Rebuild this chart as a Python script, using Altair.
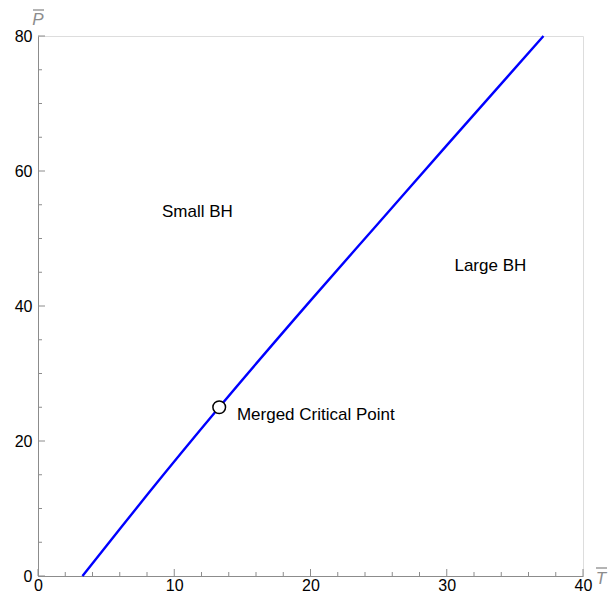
import altair as alt
import pandas as pd

# Coexistence / critical line (T̄, P̄)
line_T = [3.26, 5.0, 8.0, 13.3, 20.0, 25.0, 30.0, 37.1]
line_P = [0.0, 4.4, 12.0, 25.0, 40.8, 52.3, 63.8, 80.0]

crit_T = [13.3]
crit_P = [25.0]

label_text = ["Small BH", "Large BH", "Merged Critical Point"]
label_T = [11.7, 33.2, 14.6]
label_P = [53.9, 45.9, 23.9]
label_align = ["center", "center", "left"]

x_major = [0, 10, 20, 30, 40]
x_minor = [2, 4, 6, 8, 12, 14, 16, 18, 22, 24, 26, 28, 32, 34, 36, 38]
y_major = [0, 20, 40, 60, 80]
y_minor = [5, 10, 15, 25, 30, 35, 45, 50, 55, 65, 70, 75]

W, H = 545, 540
FONT = "Liberation Sans"
AXIS_GRAY = "#8c8c8c"

xs = alt.Scale(domain=[0, 40], nice=False, zero=False)
ys = alt.Scale(domain=[0, 80], nice=False, zero=False)

line_df = pd.DataFrame({"T": line_T, "P": line_P})
crit_df = pd.DataFrame({"T": crit_T, "P": crit_P})
lab_df = pd.DataFrame({"T": label_T, "P": label_P, "text": label_text, "align": label_align})

line = alt.Chart(line_df).mark_line(color="#0000ff", strokeWidth=2.4, interpolate="monotone").encode(
    x=alt.X("T:Q", scale=xs, axis=alt.Axis(values=x_major, ticks=False, grid=False,
                                          domainColor=AXIS_GRAY, labelFontSize=16, labelFont=FONT,
                                          labelColor="black", labelPadding=1, title=None,
                                          labelFlush=False, labelOverlap=False)),
    y=alt.Y("P:Q", scale=ys, axis=alt.Axis(values=y_major, ticks=False, grid=False,
                                          domainColor=AXIS_GRAY, labelFontSize=16, labelFont=FONT,
                                          labelColor="black", labelPadding=6, title=None,
                                          labelFlush=False, labelOverlap=False)),
)

def tick_layer(vals, axis, length):
    df = pd.DataFrame({"v": vals})
    if axis == "x":
        return alt.Chart(df).mark_rule(color=AXIS_GRAY, strokeWidth=1).encode(
            x=alt.X("v:Q", scale=xs), y=alt.value(H), y2=alt.value(H - length))
    return alt.Chart(df).mark_rule(color=AXIS_GRAY, strokeWidth=1).encode(
        y=alt.Y("v:Q", scale=ys), x=alt.value(0), x2=alt.value(length))

ticks = [tick_layer(x_major, "x", 7), tick_layer(x_minor, "x", 4),
         tick_layer(y_major, "y", 7), tick_layer(y_minor, "y", 4)]

crit = alt.Chart(crit_df).mark_point(filled=True, fill="white", stroke="black", strokeWidth=1.5,
                                     size=160, opacity=1, shape="circle").encode(
    x=alt.X("T:Q", scale=xs), y=alt.Y("P:Q", scale=ys))

labels_c = alt.Chart(lab_df[lab_df["align"] == "center"]).mark_text(
    font=FONT, fontSize=17, color="black", align="center", baseline="middle").encode(
    x=alt.X("T:Q", scale=xs), y=alt.Y("P:Q", scale=ys), text="text:N")
labels_l = alt.Chart(lab_df[lab_df["align"] == "left"]).mark_text(
    font=FONT, fontSize=17, color="black", align="left", baseline="middle").encode(
    x=alt.X("T:Q", scale=xs), y=alt.Y("P:Q", scale=ys), text="text:N")

# axis titles: italic gray letters with an overline bar
ptitle = alt.Chart(pd.DataFrame({"t": ["P"]})).mark_text(
    font=FONT, fontSize=17, fontStyle="italic", color=AXIS_GRAY, align="center", baseline="alphabetic").encode(
    x=alt.value(0), y=alt.value(-11), text="t:N")
pbar = alt.Chart(pd.DataFrame({"t": [1]})).mark_rule(color=AXIS_GRAY, strokeWidth=1.3).encode(
    x=alt.value(-5), x2=alt.value(6), y=alt.value(-26))
ttitle = alt.Chart(pd.DataFrame({"t": ["T"]})).mark_text(
    font=FONT, fontSize=17, fontStyle="italic", color=AXIS_GRAY, align="center", baseline="alphabetic").encode(
    x=alt.value(W + 18), y=alt.value(H + 8), text="t:N")
tbar = alt.Chart(pd.DataFrame({"t": [1]})).mark_rule(color=AXIS_GRAY, strokeWidth=1.3).encode(
    x=alt.value(W + 13), x2=alt.value(W + 24), y=alt.value(H - 8))

chart = alt.layer(line, *ticks, crit, labels_c, labels_l, ptitle, pbar, ttitle, tbar).properties(
    width=W, height=H,
    autosize=alt.AutoSizeParams(type="none"),
    padding={"left": 30, "top": 28, "right": 25, "bottom": 17},
).configure_view(stroke=None).configure(background="white")

chart.save("out.html", embed_options={"renderer": "svg", "actions": False})
